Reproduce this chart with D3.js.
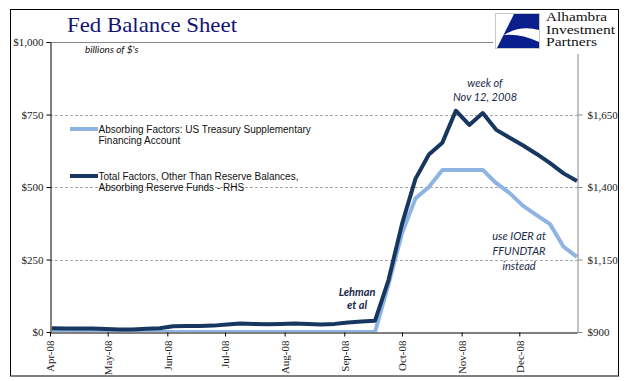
<!DOCTYPE html>
<html>
<head>
<meta charset="utf-8">
<script src="https://cdn.jsdelivr.net/npm/d3@7"></script>
<style>
  html, body { margin: 0; padding: 0; background: #fff; }
  svg { display: block; }
</style>
</head>
<body>
<svg id="chart" width="641" height="381"></svg>
<script>
// ---------- DATA ----------
const weeks = ["2008-04-02","2008-04-09","2008-04-16","2008-04-23","2008-04-30",
  "2008-05-07","2008-05-14","2008-05-21","2008-05-28",
  "2008-06-04","2008-06-11","2008-06-18","2008-06-25",
  "2008-07-02","2008-07-09","2008-07-16","2008-07-23","2008-07-30",
  "2008-08-06","2008-08-13","2008-08-20","2008-08-27",
  "2008-09-03","2008-09-10","2008-09-17","2008-09-24",
  "2008-10-01","2008-10-08","2008-10-15","2008-10-22","2008-10-29",
  "2008-11-05","2008-11-12","2008-11-19","2008-11-26",
  "2008-12-03","2008-12-10","2008-12-17","2008-12-24","2008-12-31"];

// Absorbing Factors: US Treasury Supplementary Financing Account (LHS, $bn)
const sfpValues = [0,0,0,0,0, 0,0,0,0, 0,0,0,0, 0,0,0,0,0, 0,0,0,0, 0,0,0,165,
  340,460,500,559,559, 559,559,513,479, 435,403,372,294,259];

// Total Factors, Other Than Reserve Balances, Absorbing Reserve Funds (RHS, $bn)
const totalValues = [913,912,912,912,910, 909,909,911,913, 920,921,921,922,
  926,929,928,927,928, 929,928,926,928, 933,936,939,1079,
  1272,1428,1512,1553,1663, 1614,1655,1597,1570, 1543,1514,1482,1447,1421];

const monthTicks = ["2008-04-01","2008-05-01","2008-06-01","2008-07-01","2008-08-01",
  "2008-09-01","2008-10-01","2008-11-01","2008-12-01"];
const monthLabels = ["Apr-08","May-08","Jun-08","Jul-08","Aug-08","Sep-08","Oct-08","Nov-08","Dec-08"];

const leftTicks = [0, 250, 500, 750, 1000];
const rightTicks = [900, 1150, 1400, 1650];
const gridTicks = [250, 500, 750];

const seriesNames = ["Absorbing Factors: US Treasury Supplementary|Financing Account",
  "Total Factors, Other Than Reserve Balances,|Absorbing Reserve Funds - RHS"];
const seriesColors = ["#8DB4E2", "#17375E"];

// ---------- SETUP ----------
const parse = d3.timeParse("%Y-%m-%d");
const svg = d3.select("#chart");
const L = 50, R = 577, T = 42, B = 332;

const x = d3.scaleTime().domain([parse("2008-04-01"), parse("2008-12-31")]).range([L, R]);
const yL = d3.scaleLinear().domain([0, 1000]).range([B, T]);
const yR = d3.scaleLinear().domain([900, 1900]).range([B, T]);

const sfp = weeks.map((w, i) => ({ d: parse(w), v: sfpValues[i] }));
const tot = weeks.map((w, i) => ({ d: parse(w), v: totalValues[i] }));

// outer frame
svg.append("rect").attr("x", 10.5).attr("y", 9.5).attr("width", 608).attr("height", 366.5)
  .attr("fill", "#fff").attr("stroke", "#000").attr("stroke-width", 1);

// gridlines
svg.append("g").selectAll("line").data(gridTicks).join("line")
  .attr("x1", L).attr("x2", R)
  .attr("y1", d => Math.round(yL(d)) + 0.5).attr("y2", d => Math.round(yL(d)) + 0.5)
  .attr("stroke", "#A6A6A6").attr("stroke-dasharray", "3,2").attr("stroke-width", 1);
svg.append("line").attr("x1", L).attr("x2", R).attr("y1", T + 0.5).attr("y2", T + 0.5)
  .attr("stroke", "#868686").attr("stroke-width", 1);

// clip
svg.append("defs").append("clipPath").attr("id", "plotclip")
  .append("rect").attr("x", L).attr("y", T - 10).attr("width", R - L + 4).attr("height", B - T + 10);

const plot = svg.append("g").attr("clip-path", "url(#plotclip)");
plot.append("path").datum(sfp)
  .attr("d", d3.line().x(d => x(d.d)).y(d => yL(d.v)))
  .attr("fill", "none").attr("stroke", seriesColors[0]).attr("stroke-width", 4)
  .attr("stroke-linejoin", "round");
plot.append("path").datum(tot)
  .attr("d", d3.line().x(d => x(d.d)).y(d => yR(d.v)))
  .attr("fill", "none").attr("stroke", seriesColors[1]).attr("stroke-width", 4)
  .attr("stroke-linejoin", "round");

// axes
const axisFont = "'Liberation Serif', 'Times New Roman', serif";
const money = d => "$" + d3.format(",")(d);

const gL = svg.append("g").attr("transform", `translate(${L + 0.5},0)`)
  .call(d3.axisLeft(yL).tickValues(leftTicks).tickFormat(money).tickSize(4).tickSizeOuter(0).tickPadding(3));
gL.select(".domain").attr("stroke", "#000");
gL.selectAll(".tick line").attr("stroke", "#000");
gL.selectAll("text").attr("font-family", axisFont).attr("font-size", 11).attr("fill", "#222");

const gR = svg.append("g").attr("transform", `translate(${R + 0.5},0)`)
  .call(d3.axisRight(yR).tickValues(rightTicks).tickFormat(money).tickSize(5).tickSizeOuter(0).tickPadding(5));
gR.select(".domain").attr("stroke", "#868686");
gR.selectAll(".tick line").attr("stroke", "#868686");
gR.selectAll("text").attr("font-family", axisFont).attr("font-size", 11).attr("fill", "#222");

const gB = svg.append("g").attr("transform", `translate(0,${B + 0.5})`)
  .call(d3.axisBottom(x).tickValues(monthTicks.map(parse)).tickSize(4).tickSizeOuter(0)
    .tickFormat((d, i) => monthLabels[i]));
gB.select(".domain").attr("stroke", "#000");
gB.selectAll(".tick line").attr("stroke", "#000");
gB.selectAll("text")
  .attr("font-family", axisFont).attr("font-size", 11).attr("fill", "#222")
  .attr("text-anchor", "end")
  .attr("transform", "rotate(-90)")
  .attr("x", -8).attr("y", 0).attr("dy", "0.35em");

// logo area (covers top-right)
svg.append("rect").attr("x", 493).attr("y", 10).attr("width", 125).attr("height", 44).attr("fill", "#fff");
const logo = svg.append("g");
logo.append("rect").attr("x", 495.5).attr("y", 13.5).attr("width", 44).attr("height", 35)
  .attr("fill", "#fff").attr("stroke", "#C8C8C8");
logo.append("path").attr("d", "M514,14 L539,14 L539,48 L497,48 Z").attr("fill", "#0A1E8C");
logo.append("path").attr("d", "M504,35 Q520,25 539,30 L539,42 Q520,33 504,35 Z").attr("fill", "#fff");
const logoFont = "'Liberation Serif', 'Times New Roman', serif";
[["Alhambra", 21.2, 61], ["Investment", 33.7, 69], ["Partners", 46.2, 51]].forEach(([t, yy, w]) => {
  logo.append("text").attr("x", 546).attr("y", yy).text(t)
    .attr("font-family", logoFont).attr("font-size", 11.5).attr("fill", "#111")
    .attr("textLength", w).attr("lengthAdjust", "spacingAndGlyphs");
});

// title
svg.append("text").attr("x", 67).attr("y", 32).text("Fed Balance Sheet")
  .attr("font-family", logoFont).attr("font-size", 22).attr("fill", "#141478")
  .attr("textLength", 170).attr("lengthAdjust", "spacingAndGlyphs");

svg.append("text").attr("x", 85).attr("y", 53).text("billions of $'s")
  .attr("font-family", "Lato, 'Open Sans', sans-serif").attr("font-style", "italic")
  .attr("font-size", 10).attr("fill", "#111");

// legend
const legY = [129, 176];
seriesNames.forEach((name, i) => {
  svg.append("line").attr("x1", 70).attr("x2", 98).attr("y1", legY[i]).attr("y2", legY[i])
    .attr("stroke", seriesColors[i]).attr("stroke-width", 4);
  const t = svg.append("text").attr("x", 98.5).attr("y", legY[i] + 3.8)
    .attr("font-family", "'Liberation Sans', Arial, sans-serif").attr("font-size", 10).attr("fill", "#111");
  name.split("|").forEach((ln, j) => {
    t.append("tspan").attr("x", 98.5).attr("dy", j === 0 ? 0 : 11).text(ln);
  });
});

// annotations
const annFont = "Lato, 'Open Sans', sans-serif";
const annColor = "#1A2A4A";
function ann(lines, cx, y0, lh, bold) {
  const t = svg.append("text").attr("text-anchor", "middle")
    .attr("font-family", annFont).attr("font-style", "italic")
    .attr("font-weight", bold ? "bold" : "normal")
    .attr("font-size", 11).attr("fill", annColor);
  lines.forEach((ln, j) => t.append("tspan").attr("x", cx).attr("y", y0 + j * lh).text(ln));
}
ann(["week of", "Nov 12, 2008"], 485, 87, 14, false);
ann(["Lehman", "et al"], 357, 296, 12.5, true);
ann(["use IOER at", "FFUNDTAR", "instead"], 519, 240, 15, false);
</script>
</body>
</html>
